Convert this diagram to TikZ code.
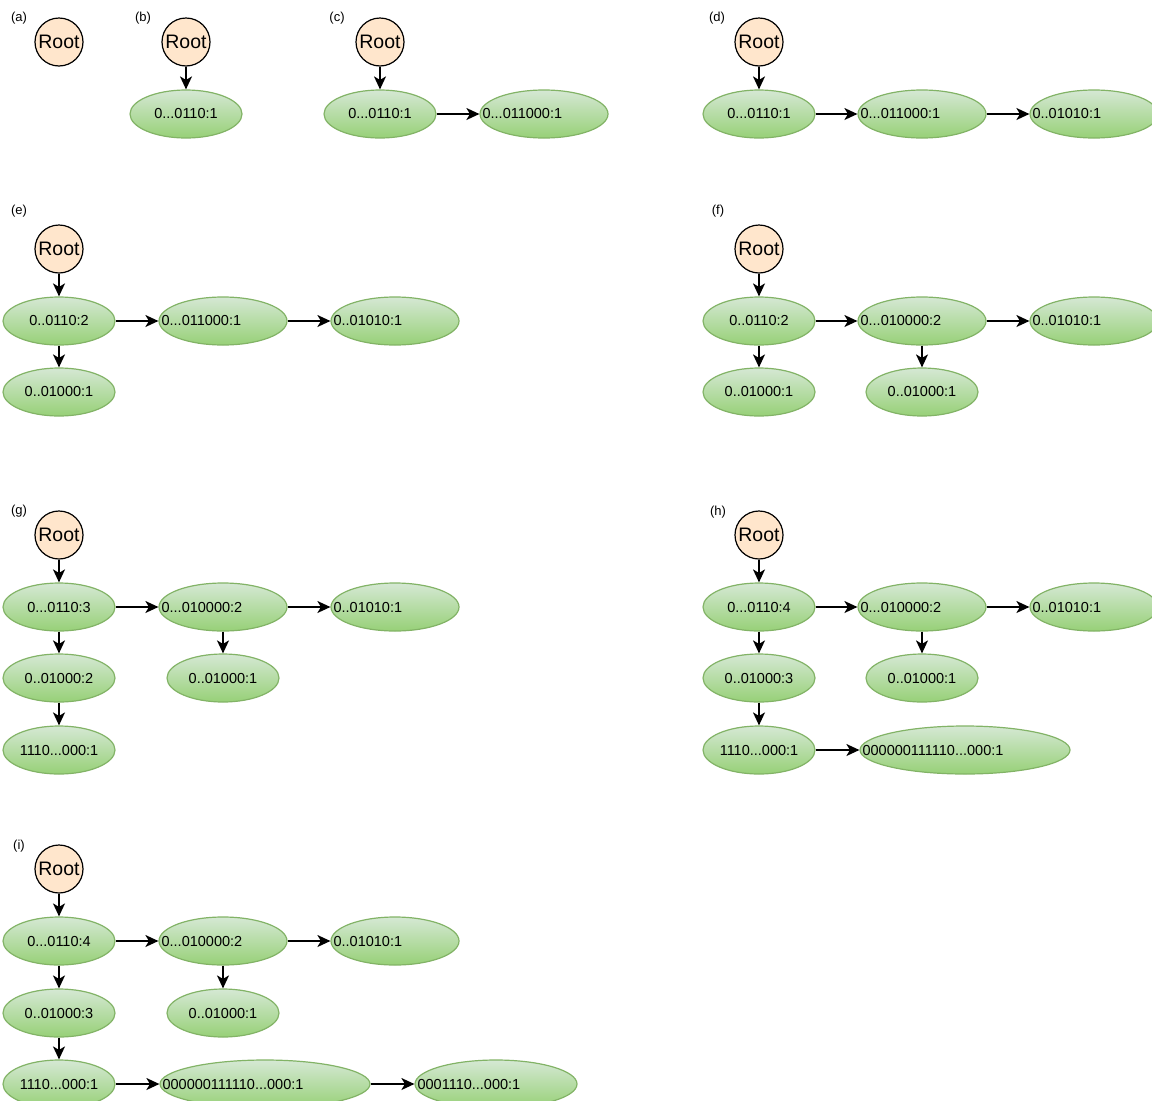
\documentclass[tikz,border=0pt]{standalone}
\usepackage{fontspec}
\setmainfont{Liberation Sans}
\usetikzlibrary{shapes.geometric,arrows.meta}
\definecolor{leaftop}{HTML}{D5E8D4}
\definecolor{leafbottom}{HTML}{97D077}
\definecolor{leafline}{HTML}{82B366}
\definecolor{rootfill}{HTML}{FFE6CC}
\begin{document}
\begin{tikzpicture}[x=1pt,y=-1pt,
    root/.style={circle, draw=black, fill=rootfill, line width=1.2pt, minimum size=48pt, inner sep=0pt, font=\fontsize{19.5}{21}\selectfont},
    leaf/.style={ellipse, draw=leafline, line width=1.2pt, top color=leaftop, bottom color=leafbottom, minimum width=112pt, minimum height=48pt, inner sep=0pt, font=\fontsize{14.5}{16}\selectfont},
    lefttext/.style={anchor=west, inner sep=3pt, font=\fontsize{14.5}{16}\selectfont},
    tag/.style={font=\fontsize{13}{15}\selectfont},
    edge/.style={line width=1.5pt, -{Stealth[length=13pt,width=12pt,inset=3.5pt]}}]
      \useasboundingbox (0,0) rectangle (1152,1101);
      \foreach \t/\x/\y in {a/19/18, b/143/18, c/337/18, d/717/18, e/19/211, f/718/211, g/19/511, h/718/512, i/19/846}{
        \node[tag] (tag\t) at (\x,\y) {(\t)};
      }
      \node[root] (a0) at (59,42) {Root};
      \node[root] (b0) at (186,42) {Root};
      \node[leaf] (b1) at (186,114) {0...0110:1};
      \node[root] (c0) at (380,42) {Root};
      \node[leaf] (c1) at (380,114) {0...0110:1};
      \node[leaf, minimum width=128pt] (c2) at (544,114) {};
      \node[lefttext] (c2t) at (c2.west) {0...011000:1};
      \node[root] (d0) at (759,42) {Root};
      \node[leaf] (d1) at (759,114) {0...0110:1};
      \node[leaf, minimum width=128pt] (d2) at (922,114) {};
      \node[lefttext] (d2t) at (d2.west) {0...011000:1};
      \node[leaf, minimum width=128pt] (d3) at (1094,114) {};
      \node[lefttext] (d3t) at (d3.west) {0..01010:1};
      \node[root] (e0) at (59,249) {Root};
      \node[leaf] (e1) at (59,321) {0..0110:2};
      \node[leaf, minimum width=128pt] (e2) at (223,321) {};
      \node[lefttext] (e2t) at (e2.west) {0...011000:1};
      \node[leaf, minimum width=128pt] (e3) at (395,321) {};
      \node[lefttext] (e3t) at (e3.west) {0..01010:1};
      \node[leaf] (e4) at (59,392) {0..01000:1};
      \node[root] (f0) at (759,249) {Root};
      \node[leaf] (f1) at (759,321) {0..0110:2};
      \node[leaf, minimum width=128pt] (f2) at (922,321) {};
      \node[lefttext] (f2t) at (f2.west) {0...010000:2};
      \node[leaf, minimum width=128pt] (f3) at (1094,321) {};
      \node[lefttext] (f3t) at (f3.west) {0..01010:1};
      \node[leaf] (f4) at (759,392) {0..01000:1};
      \node[leaf] (f5) at (922,392) {0..01000:1};
      \node[root] (g0) at (59,535) {Root};
      \node[leaf] (g1) at (59,607) {0...0110:3};
      \node[leaf, minimum width=128pt] (g2) at (223,607) {};
      \node[lefttext] (g2t) at (g2.west) {0...010000:2};
      \node[leaf, minimum width=128pt] (g3) at (395,607) {};
      \node[lefttext] (g3t) at (g3.west) {0..01010:1};
      \node[leaf] (g4) at (59,678) {0..01000:2};
      \node[leaf] (g5) at (223,678) {0..01000:1};
      \node[leaf] (g6) at (59,750) {1110...000:1};
      \node[root] (h0) at (759,535) {Root};
      \node[leaf] (h1) at (759,607) {0...0110:4};
      \node[leaf, minimum width=128pt] (h2) at (922,607) {};
      \node[lefttext] (h2t) at (h2.west) {0...010000:2};
      \node[leaf, minimum width=128pt] (h3) at (1094,607) {};
      \node[lefttext] (h3t) at (h3.west) {0..01010:1};
      \node[leaf] (h4) at (759,678) {0..01000:3};
      \node[leaf] (h5) at (922,678) {0..01000:1};
      \node[leaf] (h6) at (759,750) {1110...000:1};
      \node[leaf, minimum width=210pt] (h7) at (965,750) {};
      \node[lefttext] (h7t) at (h7.west) {000000111110...000:1};
      \node[root] (i0) at (59,869) {Root};
      \node[leaf] (i1) at (59,941) {0...0110:4};
      \node[leaf, minimum width=128pt] (i2) at (223,941) {};
      \node[lefttext] (i2t) at (i2.west) {0...010000:2};
      \node[leaf, minimum width=128pt] (i3) at (395,941) {};
      \node[lefttext] (i3t) at (i3.west) {0..01010:1};
      \node[leaf] (i4) at (59,1013) {0..01000:3};
      \node[leaf] (i5) at (223,1013) {0..01000:1};
      \node[leaf] (i6) at (59,1084) {1110...000:1};
      \node[leaf, minimum width=210pt] (i7) at (265,1084) {};
      \node[lefttext] (i7t) at (i7.west) {000000111110...000:1};
      \node[leaf, minimum width=162pt] (i8) at (496,1084) {};
      \node[lefttext] (i8t) at (i8.west) {0001110...000:1};
      \foreach \a/\b in {b0/b1, c0/c1, c1/c2, d0/d1, d1/d2, d2/d3,
          e0/e1, e1/e2, e2/e3, e1/e4,
          f0/f1, f1/f2, f2/f3, f1/f4, f2/f5,
          g0/g1, g1/g2, g2/g3, g1/g4, g2/g5, g4/g6,
          h0/h1, h1/h2, h2/h3, h1/h4, h2/h5, h4/h6, h6/h7,
          i0/i1, i1/i2, i2/i3, i1/i4, i2/i5, i4/i6, i6/i7, i7/i8}{
        \draw[edge] (\a) -- (\b);
      }
    \end{tikzpicture}
\end{document}
